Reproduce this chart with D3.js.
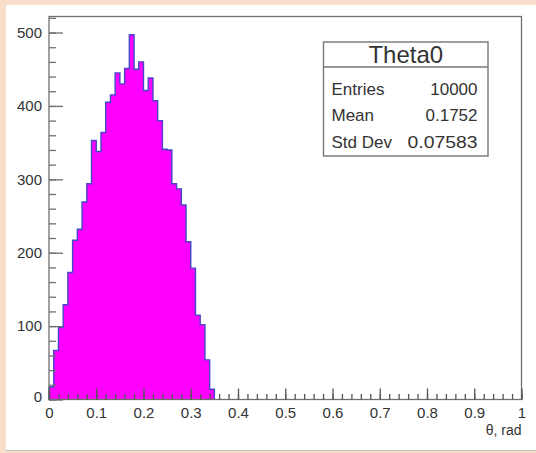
<!DOCTYPE html>
<html><head><meta charset="utf-8">
<script src="https://cdn.jsdelivr.net/npm/d3@7"></script>
<style>
body{margin:0;background:#fadccb;}
svg{display:block;font-family:"Liberation Sans",Arial,Helvetica,sans-serif;}
</style>
</head><body>
<svg id="c" width="536" height="453"></svg>
<script>
// ---- data ----
const binLow = [0.00,0.01,0.02,0.03,0.04,0.05,0.06,0.07,0.08,0.09,
                0.10,0.11,0.12,0.13,0.14,0.15,0.16,0.17,0.18,0.19,
                0.20,0.21,0.22,0.23,0.24,0.25,0.26,0.27,0.28,0.29,
                0.30,0.31,0.32,0.33,0.34];
const binWidth = 0.01;
const counts = [17,67,98,129,173,217,232,269,294,353,
                338,364,405,415,445,430,451,497,450,460,
                421,438,407,380,341,340,294,287,265,215,
                179,115,102,54,14];
const xTicks = [0,0.1,0.2,0.3,0.4,0.5,0.6,0.7,0.8,0.9,1];
const xTickLabels = ["0","0.1","0.2","0.3","0.4","0.5","0.6","0.7","0.8","0.9","1"];
const yTicks = [0,100,200,300,400,500];
const yTickLabels = ["0","100","200","300","400","500"];
const xTitle = "\u03b8, rad";
const statsTitle = "Theta0";
const statsNames = ["Entries","Mean","Std Dev"];
const statsValues = ["10000","0.1752","0.07583"];

// ---- layout ----
const svg = d3.select("#c");
const L = 49, R = 521.5, T = 16.5, B = 399.5;
const yMax = d3.max(counts) * 1.05;
const x = d3.scaleLinear().domain([0, 1]).range([L, R]);
const y = d3.scaleLinear().domain([0, yMax]).range([B, T]);
const axisCol = "#707070", textCol = "#333";

// page panel
svg.append("rect").attr("x", 6).attr("y", 5).attr("width", 530).attr("height", 445).attr("fill", "#fff");
svg.append("line").attr("x1", 6).attr("x2", 536).attr("y1", 450.5).attr("y2", 450.5).attr("stroke", "#bbb");

// histogram
const pts = [[x(binLow[0]), y(0)]];
binLow.forEach((lo, i) => {
  pts.push([x(lo), y(counts[i])]);
  pts.push([x(lo + binWidth), y(counts[i])]);
});
pts.push([x(binLow[binLow.length - 1] + binWidth), y(0)]);
svg.append("path").attr("d", d3.line()(pts))
  .attr("fill", "#ff00ff").attr("stroke", "#4545c8").attr("stroke-width", 1.4)
  .attr("stroke-linejoin", "miter");

// frame
svg.append("rect").attr("x", L).attr("y", T).attr("width", R - L).attr("height", B - T)
  .attr("fill", "none").attr("stroke", axisCol).attr("stroke-width", 1.3);

// y axis
const yMinor = d3.range(0, yMax, 20);
const gy = svg.append("g").attr("transform", `translate(${L},0)`);
gy.call(d3.axisLeft(y).tickValues(yMinor).tickSize(-7).tickFormat(""));
gy.call(g => g.select(".domain").remove());
const gy2 = svg.append("g").attr("transform", `translate(${L},0)`);
gy2.call(d3.axisLeft(y).tickValues(yTicks).tickSize(-14).tickPadding(7)
  .tickFormat((d, i) => yTickLabels[i]));
gy2.call(g => g.select(".domain").remove());
svg.selectAll("g line").attr("stroke", axisCol).attr("stroke-width", 1.3);
gy2.selectAll("text").attr("font-size", 15).attr("fill", textCol).attr("font-family", null);
gy2.selectAll("text").filter((d) => d === 0).attr("dy", "0.1em");

// x axis
const xMinor = d3.range(0, 1.0001, 0.02);
const gx = svg.append("g").attr("transform", `translate(0,${B})`);
gx.call(d3.axisBottom(x).tickValues(xMinor).tickSize(-5.5).tickFormat(""));
gx.call(g => g.select(".domain").remove());
const gx2 = svg.append("g").attr("transform", `translate(0,${B})`);
gx2.call(d3.axisBottom(x).tickValues(xTicks).tickSize(-11).tickPadding(7.5)
  .tickFormat((d, i) => xTickLabels[i]));
gx2.call(g => g.select(".domain").remove());
gx.selectAll("line").attr("stroke", "#555").attr("stroke-width", 1.3);
gx2.selectAll("line").attr("stroke", "#555").attr("stroke-width", 1.3);
gx2.selectAll("text").attr("font-size", 15).attr("fill", textCol).attr("font-family", null);

svg.append("text").attr("x", R).attr("y", 435).attr("text-anchor", "end")
  .attr("font-size", 14).attr("fill", textCol).text(xTitle);

// stats box
const sb = {l: 323.5, r: 488, t: 42, b: 156, sep: 67};
const stats = svg.append("g");
stats.append("rect").attr("x", sb.l).attr("y", sb.t).attr("width", sb.r - sb.l).attr("height", sb.b - sb.t)
  .attr("fill", "#fff").attr("stroke", "#777").attr("stroke-width", 1.4);
stats.append("line").attr("x1", sb.l).attr("x2", sb.r).attr("y1", sb.sep).attr("y2", sb.sep)
  .attr("stroke", "#777").attr("stroke-width", 1.4);
stats.append("text").attr("x", (sb.l + sb.r) / 2).attr("y", 63).attr("text-anchor", "middle")
  .attr("font-size", 24).attr("fill", textCol).text(statsTitle);
const rowY = [94.5, 121, 147.5];
statsNames.forEach((n, i) => {
  stats.append("text").attr("x", 331.5).attr("y", rowY[i]).attr("font-size", 17)
    .attr("fill", textCol).text(n);
  const v = stats.append("text").attr("x", 477.5).attr("y", rowY[i]).attr("text-anchor", "end")
    .attr("font-size", 17).attr("fill", textCol).text(statsValues[i]);
  if (statsValues[i].length > 6) v.attr("textLength", 70).attr("lengthAdjust", "spacingAndGlyphs");
});
</script>
</body></html>
